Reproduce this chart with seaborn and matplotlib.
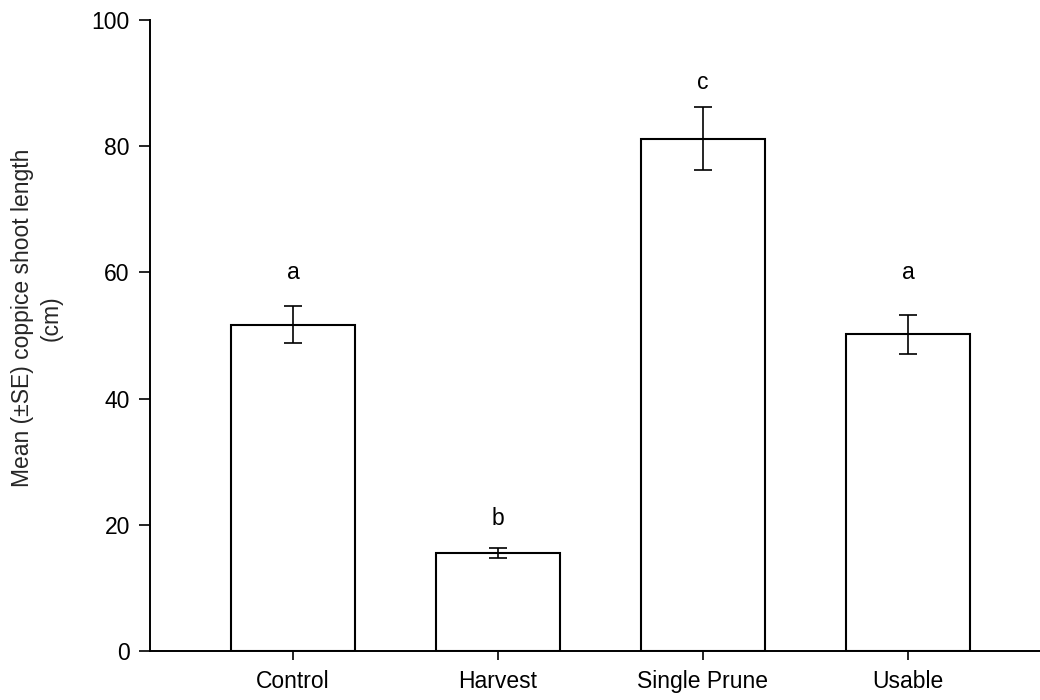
import matplotlib
matplotlib.use("Agg")
import matplotlib.pyplot as plt
import seaborn as sns
import pandas as pd
import numpy as np

# Treatment means and standard errors of coppice shoot length (cm)
treatments = ["Control", "Harvest", "Single Prune", "Usable"]
mean_length = [51.7, 15.5, 81.2, 50.2]
se_length = [2.9, 0.75, 5.0, 3.1]
group_letters = ["a", "b", "c", "a"]
letter_y = [59, 20, 89, 59]

sns.set_theme(style="ticks")
plt.rcParams["font.family"] = ["Liberation Sans", "DejaVu Sans"]

FS = 16.5

df = pd.DataFrame({"treatment": treatments, "length": mean_length})

fig = plt.figure(figsize=(10.4, 7.0), dpi=100)
ax = fig.add_axes([0.1442, 0.07, 0.8558, 0.9014])

sns.barplot(data=df, x="treatment", y="length", order=treatments,
            color="white", edgecolor="black", linewidth=1.5,
            width=0.605, errorbar=None, ax=ax)

xpos = np.arange(len(treatments))
ax.errorbar(xpos, mean_length, yerr=se_length, fmt="none",
            ecolor="black", elinewidth=1.2, capsize=6.8, capthick=1.2)

for x, txt, y in zip(xpos, group_letters, letter_y):
    ax.text(x, y, txt, ha="center", va="baseline", fontsize=FS, color="black")

ax.set_ylim(0, 100)
ax.set_yticks([0, 20, 40, 60, 80, 100])
ax.set_xlim(-0.6976, 3.644)
ax.set_xlabel("")
ax.set_ylabel("Mean (±SE) coppice shoot length\n(cm)", fontsize=FS,
              linespacing=1.3)
ax.yaxis.set_label_coords(-0.098, 0.528)

for side in ["top", "right"]:
    ax.spines[side].set_visible(False)
for side in ["left", "bottom"]:
    ax.spines[side].set_linewidth(1.4)
    ax.spines[side].set_color("black")

ax.tick_params(axis="y", direction="out", length=8, width=1.2, labelsize=FS,
               colors="black", pad=6.5)
ax.tick_params(axis="x", direction="out", length=6.5, width=1.2, labelsize=FS,
               colors="black", pad=7)

fig.savefig("out.png", dpi=100)
